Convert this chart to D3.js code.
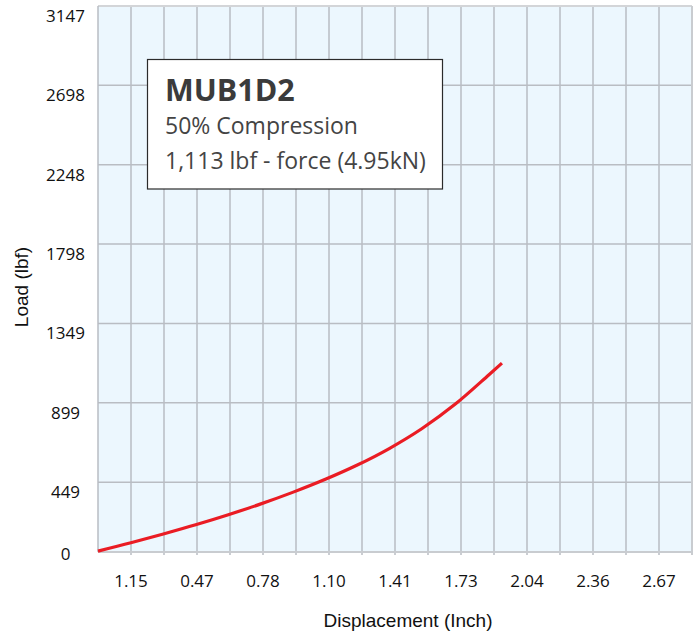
<!DOCTYPE html>
<html>
<head>
<meta charset="utf-8">
<script src="https://cdn.jsdelivr.net/npm/d3@7"></script>
<style>
body{margin:0;background:#fff;}
svg{display:block;}
.tick_lbl{font-family:"Open Sans",sans-serif;font-size:17px;fill:#111;}
.axis_title{font-family:"Liberation Sans",Arial,sans-serif;font-size:19px;fill:#111;}
</style>
</head>
<body>
<div id="chart"></div>
<script>
// y tick values and labels (lbf)
var yTicks=[0,449,899,1349,1798,2248,2698,3147];
var yLabels=["0","449","899","1349","1798","2248","2698","3147"];
// x grid every 0.1575 in, labels on every second line (as printed)
var xGrid=[0,0.1575,0.315,0.4725,0.63,0.7875,0.945,1.1025,1.26,1.4175,1.575,1.7325,1.89,2.0475,2.205,2.3625,2.52,2.6775,2.835];
var xTicks=[0.1575,0.4725,0.7875,1.1025,1.4175,1.7325,2.0475,2.3625,2.6775];
var xLabels=["1.15","0.47","0.78","1.10","1.41","1.73","2.04","2.36","2.67"];
// load curve
var dispIn=[0,0.157,0.312,0.466,0.622,0.774,0.932,1.088,1.235,1.390,1.545,1.707,1.866,1.928];
var loadLbf=[59,106,156,208,265,325,393,467,545,640,752,893,1058,1124];

var W=699,H=635;
var L=98,T=6,R=692,B=552;

var svg=d3.select("#chart").append("svg").attr("width",W).attr("height",H);

var x=d3.scaleLinear().domain([0,2.835]).range([L,R]);
var y=d3.scaleLinear().domain([0,3147]).range([561.5,T]);

//background
svg.append("rect").attr("x",L).attr("y",T).attr("width",R-L).attr("height",B-T).attr("fill","#ecf7fe");

//grid
var g_grid=svg.append("g");
g_grid.selectAll(".vg").data(xGrid.slice(1,-1)).enter().append("line")
	.attr("x1",function(d){return x(d);}).attr("x2",function(d){return x(d);})
	.attr("y1",T).attr("y2",B+3)
	.attr("stroke","#b9bdc3").attr("stroke-width",1.5);
g_grid.selectAll(".hg").data(yTicks.slice(1,-1)).enter().append("line")
	.attr("x1",L).attr("x2",R)
	.attr("y1",function(d){return y(d);}).attr("y2",function(d){return y(d);})
	.attr("stroke","#b9bdc3").attr("stroke-width",1.5);

//frame
svg.append("line").attr("x1",L).attr("x2",R).attr("y1",T).attr("y2",T).attr("stroke","#d3d5d8").attr("stroke-width",2);
svg.append("line").attr("x1",R).attr("x2",R).attr("y1",T).attr("y2",B+3).attr("stroke","#c9ccd0").attr("stroke-width",2);
svg.append("line").attr("x1",L).attr("x2",R).attr("y1",B).attr("y2",B).attr("stroke","#c9ccd0").attr("stroke-width",2);
svg.append("line").attr("x1",L).attr("x2",L).attr("y1",T).attr("y2",B).attr("stroke","#b9bdc3").attr("stroke-width",1.5);

//curve
var dataline=d3.line()
	.x(function(d,i){return x(dispIn[i]);})
	.y(function(d){return y(d);})
	.curve(d3.curveMonotoneX);
svg.append("path").attr("d",dataline(loadLbf))
	.attr("fill","none").attr("stroke","#ea1c24").attr("stroke-width",3.2);

//y labels
svg.selectAll(".ylbl").data(yTicks).enter().append("text")
	.attr("class","tick_lbl")
	.attr("x",65.5)
	.attr("y",function(d){return Math.min(y(d)+10,554);})
	.attr("dy","0.35em")
	.attr("text-anchor","middle")
	.text(function(d,i){return yLabels[i];});

//x labels
svg.selectAll(".xlbl").data(xTicks).enter().append("text")
	.attr("class","tick_lbl")
	.attr("x",function(d){return x(d);})
	.attr("y",586.5)
	.attr("text-anchor","middle")
	.text(function(d,i){return xLabels[i];});

//axis titles
svg.append("text").attr("class","axis_title")
	.attr("transform","translate(28,287) rotate(-90)")
	.attr("text-anchor","middle")
	.text("Load (lbf)");
svg.append("text").attr("class","axis_title")
	.attr("x",408).attr("y",627)
	.attr("text-anchor","middle")
	.text("Displacement (Inch)");

//info box
var g_box=svg.append("g");
g_box.append("rect").attr("x",147.5).attr("y",59.5).attr("width",295).attr("height",129.5)
	.attr("fill","#fff").attr("stroke","#2b2b2b").attr("stroke-width",1.2);
g_box.append("text").attr("x",165).attr("y",101)
	.style("font-family","'Open Sans',sans-serif").style("font-weight","bold").style("font-size","30.5px")
	.attr("fill","#3b3b3b").text("MUB1D2");
g_box.append("text").attr("x",165).attr("y",134)
	.style("font-family","'Open Sans',sans-serif").style("font-size","23px")
	.attr("fill","#444").text("50% Compression");
g_box.append("text").attr("x",165).attr("y",168.5)
	.style("font-family","'Open Sans',sans-serif").style("font-size","23px")
	.attr("fill","#444").text("1,113 lbf - force (4.95kN)");
</script>
</body>
</html>
